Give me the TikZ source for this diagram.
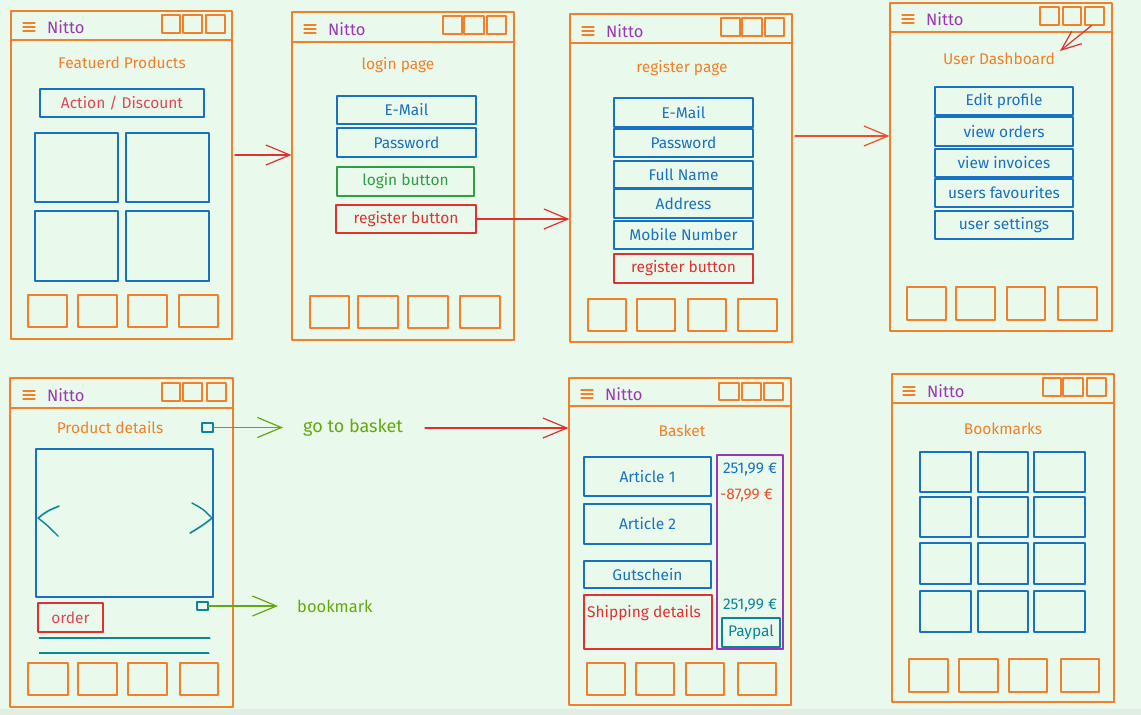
\documentclass[tikz,border=0pt]{standalone}
\usepackage{fontspec}
\setmainfont{Fira Sans}
\usetikzlibrary{arrows.meta}

\definecolor{bg}{RGB}{233,249,236}
\definecolor{bgedge}{RGB}{224,238,228}
\definecolor{skorange}{RGB}{243,128,40}
\definecolor{skblue}{RGB}{25,113,194}
\definecolor{skred}{RGB}{224,49,49}
\definecolor{skpink}{RGB}{222,70,88}
\definecolor{skgreen}{RGB}{47,158,68}
\definecolor{skteal}{RGB}{12,133,153}
\definecolor{sklime}{RGB}{102,168,15}
\definecolor{skpurple}{RGB}{156,54,181}
\definecolor{skredorange}{RGB}{235,80,45}

\newcommand\ui{\fontsize{15.5}{18}\selectfont}
\newcommand\uibig{\fontsize{18}{21}\selectfont}
\newcommand\uimid{\fontsize{16.5}{19}\selectfont}

% box given by its corners: style, name, x1, y1, x2, y2, text
\newcommand\uibox[7]{%
  \node[#1, minimum width={(#5-#3)*1pt}, minimum height={(#6-#4)*1pt}]
    (#2) at ({(#3+#5)/2},{(#4+#6)/2}) {#7};}

% phone outline with its header bar: name, x1, y1, x2, y2, header line y
\newcommand\phone[6]{%
  \uibox{frame}{#1}{#2}{#3}{#4}{#5}{}
  \draw[frameline] (#2,#6) -- (#4,#6);}

% menu icon and app name: name, x, y
\newcommand\brand[3]{%
  \foreach \d in {-4,0,4} \draw[hamb] ({#2-6},{#3+(\d)}) -- ({#2+6},{#3+(\d)});
  \node[brandtxt, anchor=west] (#1) at ({#2+18},#3) {Nitto};}

\tikzset{
  sk/.style={line width=1.1pt, line join=round,
    postaction={draw, line width=0.6pt, opacity=0.5,
      transform canvas={xshift=0.7pt,yshift=-0.6pt}}},
  frame/.style={draw=skorange, sk, inner sep=0pt},
  frameline/.style={draw=skorange, sk},
  hsq/.style={draw=skorange, sk, inner sep=0pt},
  hamb/.style={draw=skorange, line width=1.3pt, line cap=round},
  brandtxt/.style={text=skpurple, font=\uimid, inner sep=0pt},
  title/.style={text=skorange, font=\ui, inner sep=0pt},
  bbox/.style={draw=skblue, sk, text=skblue, font=\ui, inner sep=0pt},
  rbox/.style={draw=skred, sk, text=skred, font=\ui, inner sep=0pt},
  gbox/.style={draw=skgreen, sk, text=skgreen, font=\ui, inner sep=0pt},
  tbox/.style={draw=skteal, sk, text=skteal, font=\ui, inner sep=0pt},
  pbox/.style={draw=skpurple, sk, inner sep=0pt},
  price/.style={font=\ui, inner sep=0pt},
  label/.style={text=sklime, inner sep=0pt},
  chev/.style={draw=skteal, sk, line width=1.4pt, line cap=round},
  arr/.style={line width=1.2pt, line cap=round,
    -{Straight Barb[length=24pt,width=20pt,line width=1.2pt]}},
  arrsmall/.style={line width=1.2pt, line cap=round,
    -{Straight Barb[length=20pt,width=16pt,line width=1.2pt]}},
}

\begin{document}
\begin{tikzpicture}[x=1pt,y=-1pt]
\useasboundingbox (0,0) rectangle (1141,715);
\fill[bg] (0,0) rectangle (1141,715);
\fill[bgedge] (0,709) rectangle (1141,715);

% ---------- featured products ----------
\phone{p1}{11}{11}{232}{339}{40}
\brand{n1}{29}{27}
\foreach[count=\i] \a/\b in {162/180,183/202,206/225} \uibox{hsq}{p1h\i}{\a}{15}{\b}{33}{};
\foreach[count=\i] \a/\b in {28/67,78/117,128/167,179/218} \uibox{hsq}{p1f\i}{\a}{295}{\b}{327}{};
\node[title] (t1) at (122,63) {Featuerd Products};
\uibox{bbox, text=skpink}{act}{40}{89}{204}{117}{Action / Discount}
\uibox{bbox}{g1}{35}{133}{118}{202}{}
\uibox{bbox}{g2}{126}{133}{209}{202}{}
\uibox{bbox}{g3}{35}{211}{118}{281}{}
\uibox{bbox}{g4}{126}{211}{209}{281}{}

% ---------- login ----------
\phone{p2}{292}{12}{514}{340}{42}
\brand{n2}{310}{29}
\foreach[count=\i] \a/\b in {443/462,464/484,487/506} \uibox{hsq}{p2h\i}{\a}{16}{\b}{34}{};
\foreach[count=\i] \a/\b in {310/349,358/398,408/448,460/500} \uibox{hsq}{p2f\i}{\a}{296}{\b}{328}{};
\node[title] (t2) at (398,65) {login page};
\uibox{bbox}{lmail}{337}{96}{476}{124}{E-Mail}
\uibox{bbox}{lpass}{337}{128}{476}{157}{Password}
\uibox{gbox}{lbtn}{337}{167}{474}{196}{login button}
\uibox{rbox}{lreg}{336}{205}{476}{233}{register button}

% ---------- register ----------
\phone{p3}{570}{14}{792}{342}{43}
\brand{n3}{588}{31}
\foreach[count=\i] \a/\b in {721/740,742/762,765/784} \uibox{hsq}{p3h\i}{\a}{18}{\b}{36}{};
\foreach[count=\i] \a/\b in {588/626,637/675,688/726,738/777} \uibox{hsq}{p3f\i}{\a}{299}{\b}{331}{};
\node[title] (t3) at (682,68) {register page};
\uibox{bbox}{rmail}{614}{98}{753}{127}{E-Mail}
\uibox{bbox}{rpass}{614}{129}{753}{157}{Password}
\uibox{bbox}{rname}{614}{161}{753}{188}{Full Name}
\uibox{bbox}{raddr}{614}{189}{753}{218}{Address}
\uibox{bbox}{rmob}{614}{221}{753}{249}{Mobile Number}
\uibox{rbox}{rreg}{614}{254}{753}{283}{register button}

% ---------- user dashboard ----------
\phone{p4}{890}{3}{1112}{331}{32}
\brand{n4}{908}{19}
\foreach[count=\i] \a/\b in {1040/1059,1063/1081,1085/1104} \uibox{hsq}{p4h\i}{\a}{7}{\b}{25}{};
\foreach[count=\i] \a/\b in {907/946,956/995,1007/1045,1058/1097} \uibox{hsq}{p4f\i}{\a}{287}{\b}{320}{};
\node[title] (t4) at (999,59) {User Dashboard};
\uibox{bbox}{dedit}{935}{87}{1073}{115}{Edit profile}
\uibox{bbox}{dord}{935}{117}{1073}{146}{view orders}
\uibox{bbox}{dinv}{935}{149}{1073}{177}{view invoices}
\uibox{bbox}{dfav}{935}{179}{1073}{207}{users favourites}
\uibox{bbox}{dset}{935}{211}{1073}{239}{user settings}

% ---------- product details ----------
\phone{p5}{10}{378}{233}{707}{408}
\brand{n5}{29}{395}
\foreach[count=\i] \a/\b in {162/180,183/202,207/226} \uibox{hsq}{p5h\i}{\a}{383}{\b}{401}{};
\foreach[count=\i] \a/\b in {28/68,78/117,128/167,180/218} \uibox{hsq}{p5f\i}{\a}{663}{\b}{695}{};
\node[title] (t5) at (110,428) {Product details};
\uibox{tbox}{basketbtn}{202}{423}{213}{432}{}
\uibox{bbox}{img}{36}{449}{213}{597}{}
% image carousel chevrons
\draw[chev] (59,506) .. controls (47,511) .. (38,518) .. controls (47,525) .. (58,536);
\draw[chev] (192,503) .. controls (203,509) .. (212,518) .. controls (203,525) .. (190,533);
\uibox{rbox, text=skpink}{order}{38}{603}{103}{632}{order}
\uibox{tbox}{bookbtn}{197}{602}{208}{610}{}
\draw[skteal, sk] (39,638) -- (210,638);
\draw[skteal, sk] (39,653) -- (209,653);
\node[label, font=\uibig, anchor=west] (gtb) at (303,428) {go to basket};
\node[label, font=\uimid, anchor=west] (bmk) at (297,606) {bookmark};

% ---------- basket ----------
\phone{p6}{569}{378}{791}{705}{406}
\brand{n6}{587}{394}
\foreach[count=\i] \a/\b in {719/739,742/761,764/783} \uibox{hsq}{p6h\i}{\a}{383}{\b}{400}{};
\foreach[count=\i] \a/\b in {587/625,636/674,686/724,738/776} \uibox{hsq}{p6f\i}{\a}{663}{\b}{695}{};
\node[title] (t6) at (682,431) {Basket};
\uibox{bbox}{art1}{584}{457}{711}{496}{Article 1}
\uibox{bbox}{art2}{584}{504}{711}{544}{Article 2}
\uibox{bbox}{gut}{584}{561}{711}{588}{Gutschein}
\uibox{rbox}{ship}{584}{595}{712}{649}{}
\node[text=skred, font=\ui, inner sep=0pt] (shiptxt) at (644,613) {Shipping details};
\uibox{pbox}{sum}{717}{455}{783}{649}{}
\node[price, text=skblue] (pr1) at (750,470) {251,99 €};
\node[price, text=skredorange, anchor=west] (pr2) at (720,496) {-87,99 €};
\node[price, text=skteal] (pr3) at (750,606) {251,99 €};
\uibox{tbox}{paypal}{722}{618}{780}{647}{Paypal}

% ---------- bookmarks ----------
\phone{p7}{892}{374}{1114}{702}{403}
\brand{n7}{909}{391}
\foreach[count=\i] \a/\b in {1043/1061,1063/1083,1087/1106} \uibox{hsq}{p7h\i}{\a}{378}{\b}{396}{};
\foreach[count=\i] \a/\b in {909/948,959/998,1009/1047,1061/1099} \uibox{hsq}{p7f\i}{\a}{659}{\b}{692}{};
\node[title] (t7) at (1003,429) {Bookmarks};
\foreach[count=\r] \ya/\yb in {452/492,497/537,543/584,591/632}
  \foreach[count=\c] \xa/\xb in {920/971,978/1028,1034/1085}
    \uibox{bbox}{bm\r\c}{\xa}{\ya}{\xb}{\yb}{};

% ---------- navigation arrows ----------
\coordinate (a1) at (235,155);
\draw[arr, skred] (a1) -- (a1 -| p2.west);
\draw[arr, skred] (lreg.east) -- (lreg.east -| p3.west);
\coordinate (a3) at (795,136);
\draw[arr, skredorange] (a3) -- (a3 -| p4.west);
\coordinate (a4) at (1060,51);
\draw[arrsmall, skred] ([xshift=-3pt]p4h3.south) -- (a4);
\coordinate (a5) at (283,427.5);
\draw[arr, sklime] (basketbtn.east) -- (a5);
\coordinate (a6) at (278,606);
\draw[arr, sklime] (bookbtn.east) -- (a6);
\coordinate (a7) at (425,428);
\draw[arr, skred] (a7) -- (a7 -| p6.west);
\end{tikzpicture}
\end{document}
